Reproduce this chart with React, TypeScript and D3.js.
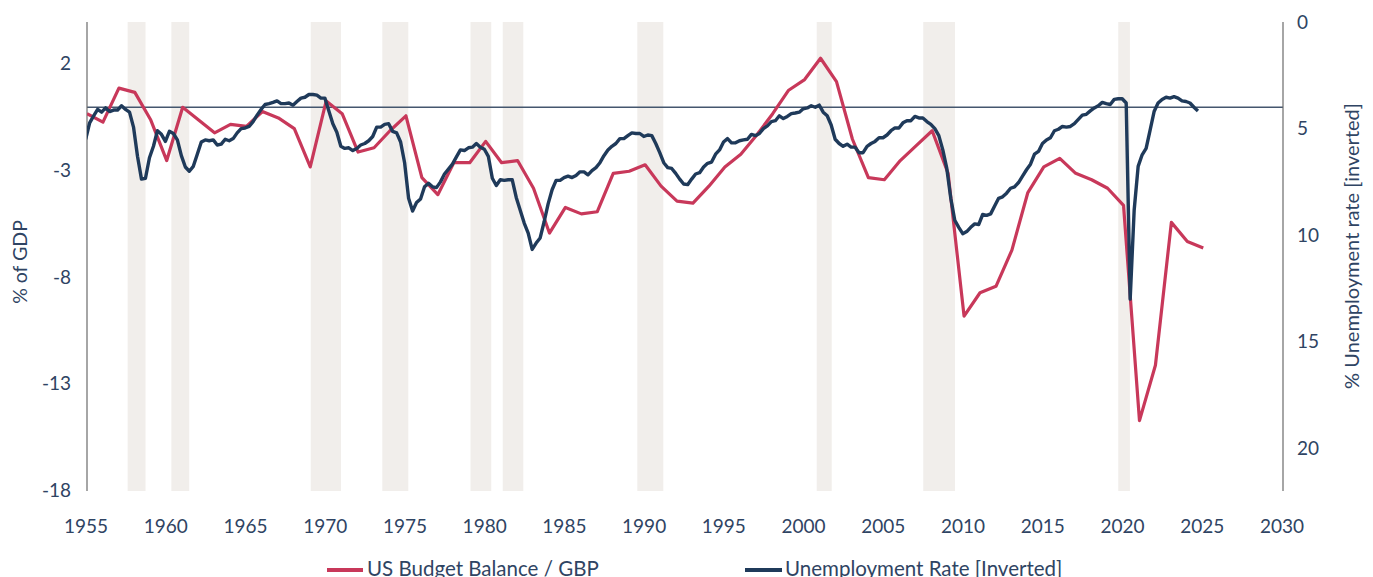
import React from "react";
import * as d3 from "d3";

// ---------- DATA ----------
// US federal budget balance, % of GDP, by fiscal year (plotted at end of year)
const budgetYears: number[] = d3.range(1954, 2025);
const budgetValues: number[] = [
  -0.3, -0.7, 0.9, 0.7, -0.6, -2.5, 0.0, -0.6, -1.2, -0.8, -0.9, -0.2, -0.5, -1.0, -2.8, 0.3,
  -0.3, -2.1, -1.9, -1.1, -0.4, -3.3, -4.1, -2.6, -2.6, -1.6, -2.6, -2.5, -3.8, -5.9, -4.7,
  -5.0, -4.9, -3.1, -3.0, -2.7, -3.7, -4.4, -4.5, -3.7, -2.8, -2.2, -1.3, -0.3, 0.8, 1.3,
  2.3, 1.2, -1.5, -3.3, -3.4, -2.5, -1.8, -1.1, -3.1, -9.8, -8.7, -8.4, -6.7, -4.0, -2.8,
  -2.4, -3.1, -3.4, -3.8, -4.6, -14.7, -12.1, -5.4, -6.3, -6.6,
];

// Unemployment rate, quarterly averages, from 1954 Q4 to 2024 Q3
const unempStartYear = 1954;
const unempStartQuarter = 4;
const unempValues: number[] = [
  5.5,
  4.73, 4.4, 4.1, 4.23,
  4.03, 4.2, 4.13, 4.13,
  3.93, 4.1, 4.23, 4.93,
  6.3, 7.37, 7.33, 6.37,
  5.83, 5.1, 5.27, 5.6,
  5.13, 5.23, 5.53, 6.27,
  6.8, 7.0, 6.77, 6.2,
  5.63, 5.53, 5.57, 5.53,
  5.77, 5.73, 5.5, 5.57,
  5.47, 5.2, 5.0, 4.97,
  4.9, 4.67, 4.37, 4.1,
  3.87, 3.83, 3.77, 3.7,
  3.83, 3.83, 3.8, 3.9,
  3.73, 3.57, 3.53, 3.4,
  3.4, 3.43, 3.57, 3.57,
  4.17, 4.77, 5.17, 5.83,
  5.93, 5.9, 6.03, 5.93,
  5.77, 5.7, 5.57, 5.37,
  4.93, 4.93, 4.8, 4.77,
  5.13, 5.2, 5.63, 6.6,
  8.27, 8.87, 8.47, 8.3,
  7.73, 7.57, 7.73, 7.77,
  7.5, 7.13, 6.9, 6.67,
  6.33, 6.0, 6.03, 5.9,
  5.87, 5.7, 5.87, 5.97,
  6.3, 7.33, 7.67, 7.4,
  7.43, 7.4, 7.4, 8.23,
  8.83, 9.43, 9.9, 10.67,
  10.37, 10.13, 9.37, 8.53,
  7.87, 7.43, 7.43, 7.3,
  7.23, 7.3, 7.2, 7.03,
  7.03, 7.17, 6.97, 6.83,
  6.6, 6.27, 6.0, 5.83,
  5.7, 5.47, 5.47, 5.33,
  5.2, 5.23, 5.23, 5.37,
  5.3, 5.33, 5.7, 6.13,
  6.6, 6.83, 6.87, 7.1,
  7.37, 7.6, 7.63, 7.37,
  7.13, 7.07, 6.8, 6.63,
  6.57, 6.2, 6.0, 5.63,
  5.47, 5.67, 5.67, 5.57,
  5.53, 5.5, 5.27, 5.33,
  5.23, 5.0, 4.87, 4.67,
  4.63, 4.4, 4.53, 4.43,
  4.3, 4.27, 4.23, 4.07,
  4.03, 3.93, 4.0, 3.9,
  4.23, 4.4, 4.83, 5.5,
  5.7, 5.83, 5.73, 5.87,
  5.87, 6.13, 6.13, 5.83,
  5.7, 5.6, 5.43, 5.43,
  5.3, 5.1, 4.97, 4.97,
  4.73, 4.63, 4.63, 4.43,
  4.5, 4.5, 4.67, 4.8,
  5.0, 5.33, 6.0, 6.87,
  8.27, 9.3, 9.63, 9.93,
  9.83, 9.63, 9.47, 9.5,
  9.03, 9.07, 9.0, 8.63,
  8.27, 8.2, 8.03, 7.8,
  7.73, 7.53, 7.23, 6.93,
  6.67, 6.2, 6.07, 5.7,
  5.53, 5.43, 5.1, 5.03,
  4.9, 4.93, 4.9, 4.77,
  4.57, 4.37, 4.33, 4.17,
  4.03, 3.93, 3.77, 3.83,
  3.87, 3.63, 3.6, 3.6,
  3.8, 13.0, 8.83, 6.77,
  6.23, 5.93, 5.07, 4.2,
  3.8, 3.63, 3.53, 3.57,
  3.5, 3.57, 3.7, 3.73,
  3.8, 4.0, 4.17,
];

// Recession shading (start, end in decimal years)
const recessionStarts: number[] = [1957.55, 1960.29, 1969.03, 1973.52, 1979.05, 1981.07, 1989.51, 2000.76, 2007.44, 2019.67];
const recessionEnds: number[] = [1958.67, 1961.41, 1970.93, 1975.15, 1980.35, 1982.36, 1991.14, 2001.7, 2009.43, 2020.4];

const xTicks: number[] = d3.range(1955, 2031, 5);
const leftTicks: number[] = [2, -3, -8, -13, -18];
const rightTicks: number[] = [0, 5, 10, 15, 20];

const legendLabels: string[] = ["US Budget Balance / GBP", "Unemployment Rate [Inverted]"];

// ---------- STYLE ----------
const W = 1373;
const H = 577;
const M = { left: 87, right: 1283, top: 22, bottom: 491 };
const RED = "#c8385a";
const NAVY = "#1f3a5a";
const TEXT = "#2f4463";
const BAND = "#f1eeeb";
const FONT = "Lato, 'Noto Sans', sans-serif";

export default function App() {
  const x = d3.scaleLinear().domain([1955, 2030]).range([M.left, M.right]);
  const yL = d3.scaleLinear().domain([-18, 4]).range([M.bottom, M.top]);
  const yR = d3.scaleLinear().domain([0, 22]).range([M.top, M.bottom]);

  const budget = budgetYears.map((yr, i) => ({ t: yr + 1, v: budgetValues[i] }));
  const unemp = unempValues.map((v, i) => {
    const qIndex = unempStartQuarter - 1 + i;
    const yr = unempStartYear + Math.floor(qIndex / 4);
    const q = (qIndex % 4) + 1;
    return { t: yr + (3 * q - 1) / 12, v };
  });

  const redLine = d3
    .line<{ t: number; v: number }>()
    .x((d) => x(d.t))
    .y((d) => yL(d.v))(budget);
  const blueLine = d3
    .line<{ t: number; v: number }>()
    .x((d) => x(d.t))
    .y((d) => yR(d.v))(unemp);

  return (
    <svg
      width={W}
      height={H}
      style={{ position: "absolute", left: 0, top: 0, background: "#fff" }}
      fontFamily={FONT}
    >
      <defs>
        <clipPath id="plot">
          <rect x={M.left} y={M.top} width={M.right - M.left} height={M.bottom - M.top} />
        </clipPath>
      </defs>
      {/* recession bands */}
      {recessionStarts.map((s, i) => (
        <rect
          key={i}
          x={x(s)}
          y={M.top}
          width={x(recessionEnds[i]) - x(s)}
          height={M.bottom - M.top}
          fill={BAND}
        />
      ))}
      {/* zero line */}
      <line x1={M.left} x2={M.right} y1={yL(0)} y2={yL(0)} stroke="#44566e" strokeWidth={1.5} />
      {/* axes lines */}
      <line x1={M.left} x2={M.left} y1={M.top} y2={M.bottom} stroke="#6b6b6b" strokeWidth={1.2} />
      <line x1={M.right} x2={M.right} y1={M.top} y2={M.bottom} stroke="#6b6b6b" strokeWidth={1.2} />
      <g clipPath="url(#plot)">
        <path d={redLine ?? ""} fill="none" stroke={RED} strokeWidth={3.2} strokeLinejoin="round" />
        <path d={blueLine ?? ""} fill="none" stroke={NAVY} strokeWidth={3.4} strokeLinejoin="round" />
      </g>
      {/* left ticks */}
      {leftTicks.map((t) => (
        <text key={"l" + t} x={71} y={yL(t)} dy="0.3em" textAnchor="end" fontSize={19} fill={TEXT}>
          {t}
        </text>
      ))}
      {/* right ticks */}
      {rightTicks.map((t) => (
        <text key={"r" + t} x={1297} y={yR(t)} dy="0.35em" textAnchor="start" fontSize={19} fill={TEXT}>
          {t}
        </text>
      ))}
      {/* x ticks */}
      {xTicks.map((t) => (
        <text key={"x" + t} x={x(t) - 1} y={533} textAnchor="middle" fontSize={19} fill={TEXT}>
          {t}
        </text>
      ))}
      {/* axis titles */}
      <text
        transform={`translate(${27},${262}) rotate(-90)`}
        textAnchor="middle"
        fontSize={19.5}
        fill={TEXT}
      >
        % of GDP
      </text>
      <text
        transform={`translate(${1359},${246}) rotate(-90)`}
        textAnchor="middle"
        fontSize={20}
        fill={TEXT}
      >
        % Unemployment rate [inverted]
      </text>
      {/* legend */}
      <line x1={327} x2={363} y1={570} y2={570} stroke={RED} strokeWidth={4} />
      <text x={367} y={576} fontSize={20.5} fill={TEXT}>
        {legendLabels[0]}
      </text>
      <line x1={745} x2={782} y1={570} y2={570} stroke={NAVY} strokeWidth={4} />
      <text x={785} y={576} fontSize={20.5} fill={TEXT}>
        {legendLabels[1]}
      </text>
    </svg>
  );
}
